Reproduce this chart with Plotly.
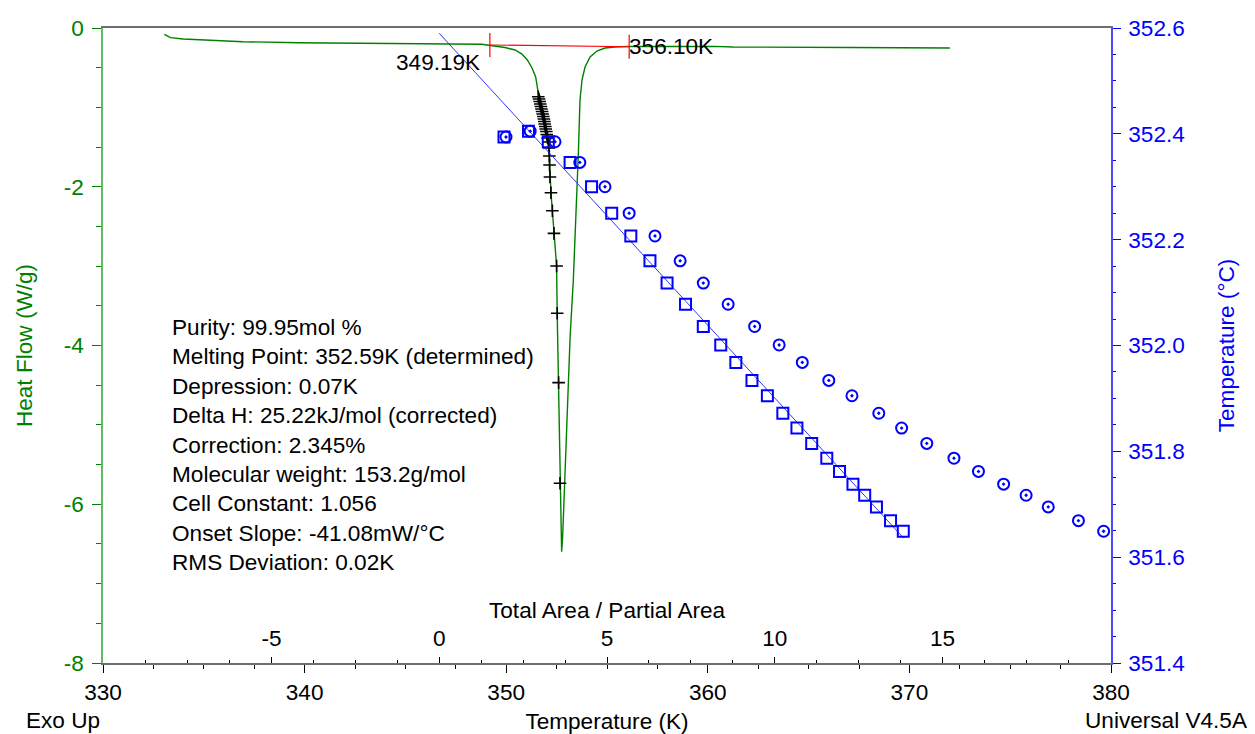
import plotly.graph_objects as go

# ---------------- data ----------------
# Heat flow curve (Temperature K, Heat Flow W/g)
hf_temp = [333.04, 333.35, 333.97, 335.24, 336.94, 339.72, 343.94, 348.78, 349.40, 349.94,
           350.44, 350.78, 351.05, 351.28, 351.46, 351.55,
           351.59, 351.66, 351.72, 351.78, 351.84, 351.89, 351.94, 351.99, 352.05, 352.09,
           352.14, 352.17, 352.22, 352.29, 352.37, 352.50, 352.53, 352.60, 352.67, 352.72, 352.75,
           352.80, 352.92, 353.03, 353.17, 353.33, 353.46, 353.58, 353.66, 353.76, 353.91,
           354.16, 354.50, 354.90, 355.40, 356.04, 360.31, 361.25, 367.06, 372.01]
hf_flow = [-0.079, -0.122, -0.139, -0.151, -0.173, -0.185, -0.193, -0.205, -0.227, -0.246,
           -0.277, -0.328, -0.403, -0.504, -0.614, -0.756,
           -0.866, -0.926, -0.989, -1.052, -1.115, -1.178, -1.241, -1.304, -1.386, -1.436,
           -1.613, -1.877, -2.075, -2.302, -2.587, -2.998, -3.594, -4.468, -5.736, -6.324, -6.598,
           -6.409, -5.568, -4.724, -3.889, -3.175, -2.419, -1.575, -0.907, -0.655, -0.491,
           -0.365, -0.290, -0.252, -0.239, -0.233, -0.231, -0.239, -0.246, -0.252]

# Partial-area points on the heat flow curve
pa_temp = [351.59, 351.63, 351.66, 351.69, 351.72, 351.75, 351.78, 351.81, 351.84, 351.87,
           351.89, 351.91, 351.94, 351.96, 351.99, 352.01, 352.05, 352.09, 352.12, 352.14,
           352.15, 352.17, 352.22, 352.29, 352.37, 352.50, 352.53, 352.60, 352.67]
pa_flow = [-0.866, -0.894, -0.926, -0.957, -0.989, -1.020, -1.052, -1.083, -1.115, -1.146,
           -1.178, -1.209, -1.241, -1.272, -1.304, -1.342, -1.386, -1.436, -1.512, -1.613,
           -1.726, -1.877, -2.075, -2.302, -2.587, -2.998, -3.594, -4.468, -5.736]

# Baseline limits
base_temp = [349.19, 356.10]
base_flow = [-0.214, -0.236]
base_labels = ["349.19K", "356.10K"]

# 1/F plot (Total Area / Partial Area vs Temperature)
sample_temp = [352.394, 352.405, 352.385, 352.346, 352.300, 352.250, 352.207, 352.160, 352.118,
               352.078, 352.036, 352.001, 351.968, 351.934, 351.905, 351.872, 351.844, 351.815,
               351.787, 351.762, 351.738, 351.717, 351.695, 351.669, 351.649]
corr_area = [1.93, 2.66, 3.25, 3.90, 4.54, 5.14, 5.71, 6.28, 6.79, 7.34, 7.87, 8.39, 8.84,
             9.32, 9.78, 10.24, 10.66, 11.10, 11.55, 11.93, 12.33, 12.68, 13.03, 13.45, 13.83]
uncorr_area = [1.99, 2.71, 3.45, 4.19, 4.94, 5.66, 6.43, 7.18, 7.87, 8.61, 9.40, 10.13, 10.82,
               11.61, 12.30, 13.10, 13.78, 14.53, 15.34, 16.07, 16.82, 17.49, 18.15, 19.05, 19.80]

fit_area = [0.0, 13.84]
fit_temp = [352.590, 351.636]

# Tick labels
hf_ticks = [-8, -6, -4, -2, 0]
hf_ticktext = ["-8", "-6", "-4", "-2", "0"]
area_ticks = [-5, 0, 5, 10, 15]
area_ticktext = ["-5", "0", "5", "10", "15"]
t2_ticks = [351.4, 351.6, 351.8, 352.0, 352.2, 352.4, 352.6]
t2_ticktext = ["351.4", "351.6", "351.8", "352.0", "352.2", "352.4", "352.6"]

results = ["Purity: 99.95mol %",
           "Melting Point: 352.59K (determined)",
           "Depression: 0.07K",
           "Delta H: 25.22kJ/mol (corrected)",
           "Correction: 2.345%",
           "Molecular weight: 153.2g/mol",
           "Cell Constant: 1.056",
           "Onset Slope: -41.08mW/°C",
           "RMS Deviation: 0.02K"]

# ---------------- styles ----------------
FONT = "Liberation Sans, Arial, sans-serif"
FS = 22.6
GREEN = "#008000"
BLUE = "#0000ff"
AREA_RANGE = [-10.02, 20.02]

fig = go.Figure()

fig.add_trace(go.Scatter(x=hf_temp, y=hf_flow, mode="lines",
                         line=dict(color=GREEN, width=1.4), xaxis="x", yaxis="y",
                         showlegend=False, hoverinfo="skip"))
fig.add_trace(go.Scatter(x=base_temp, y=base_flow, mode="lines+markers",
                         line=dict(color="#ff0000", width=1.2),
                         marker=dict(symbol="line-ns", size=17, color="#ff0000",
                                     line=dict(color="#ff0000", width=1.2)),
                         xaxis="x", yaxis="y", showlegend=False, hoverinfo="skip"))
fig.add_trace(go.Scatter(x=pa_temp, y=pa_flow, mode="markers",
                         marker=dict(symbol="cross-thin", size=9, color="black",
                                     line=dict(color="black", width=1.6)),
                         xaxis="x", yaxis="y", showlegend=False, hoverinfo="skip"))
fig.add_trace(go.Scatter(x=fit_area, y=fit_temp, mode="lines",
                         line=dict(color="#3535ff", width=1), xaxis="x2", yaxis="y2",
                         showlegend=False, hoverinfo="skip"))
fig.add_trace(go.Scatter(x=corr_area, y=sample_temp, mode="markers",
                         marker=dict(symbol="square-open", size=11, color=BLUE,
                                     line=dict(color=BLUE, width=2)),
                         xaxis="x2", yaxis="y2", showlegend=False, hoverinfo="skip"))
fig.add_trace(go.Scatter(x=uncorr_area, y=sample_temp, mode="markers",
                         marker=dict(symbol="circle-open-dot", size=11, color=BLUE,
                                     line=dict(color=BLUE, width=2)),
                         xaxis="x3", yaxis="y2", showlegend=False, hoverinfo="skip"))

annotations = [
    dict(x=base_temp[0], y=-0.43, xref="x", yref="y", text=base_labels[0], showarrow=False,
         xanchor="right", yanchor="middle", xshift=-8, font=dict(family=FONT, size=FS, color="black")),
    dict(x=base_temp[1], y=base_flow[1], xref="x", yref="y", text=base_labels[1], showarrow=False,
         xanchor="left", yanchor="middle", xshift=-2, font=dict(family=FONT, size=FS, color="black")),
    dict(x=0.066, y=0.551, xref="paper", yref="paper", text="<br>".join(results), showarrow=False,
         xanchor="left", yanchor="top", align="left", font=dict(family=FONT, size=FS, color="black")),
    dict(x=0.5, y=0.082, xref="paper", yref="paper", text="Total Area / Partial Area", showarrow=False,
         xanchor="center", yanchor="middle", font=dict(family=FONT, size=FS, color="black")),
    dict(x=-0.078, y=-0.09, xref="paper", yref="paper", text="Exo Up", showarrow=False,
         xanchor="left", yanchor="middle", font=dict(family=FONT, size=FS, color="black")),
    dict(x=1.138, y=-0.09, xref="paper", yref="paper", text="Universal V4.5A", showarrow=False,
         xanchor="right", yanchor="middle", font=dict(family=FONT, size=FS, color="black")),
]

fig.update_layout(
    width=1247, height=726,
    margin=dict(l=95, r=144, t=20, b=71, autoexpand=False),
    paper_bgcolor="white", plot_bgcolor="white",
    font=dict(family=FONT, size=FS, color="black"),
    annotations=annotations,
    xaxis=dict(range=[330, 380], dtick=10, tick0=330, showgrid=False, zeroline=False,
               showline=True, linecolor="#6e6e6e", linewidth=2, mirror=True,
               ticks="outside", ticklen=8, tickwidth=1, tickcolor="black",
               minor=dict(dtick=2.5, ticklen=4, tickcolor="black", ticks="outside"),
               tickfont=dict(family=FONT, size=FS, color="black"), ticklabelstandoff=0,
               title=dict(text="Temperature (K)", font=dict(family=FONT, size=FS, color="black"), standoff=14)),
    # area axis: ticks on the bottom line, pointing into the plot
    xaxis2=dict(range=AREA_RANGE, tickmode="array", tickvals=area_ticks,
                overlaying="x", anchor="y", side="bottom",
                showgrid=False, zeroline=False, showline=False, showticklabels=False,
                ticks="inside", ticklen=6, tickwidth=1, tickcolor="black",
                minor=dict(tickmode="linear", dtick=1.25, tick0=0, ticklen=3, tickcolor="black", ticks="inside")),
    # area axis labels, placed just above the bottom line
    xaxis3=dict(range=AREA_RANGE, tickmode="array", tickvals=area_ticks, ticktext=area_ticktext,
                overlaying="x", anchor="free", position=0.0646, side="bottom",
                showgrid=False, zeroline=False, showline=False, ticks="",
                tickfont=dict(family=FONT, size=FS, color="black")),
    yaxis=dict(range=[-8, 0], tickmode="array", tickvals=hf_ticks, ticktext=hf_ticktext,
               showgrid=False, zeroline=False,
               showline=True, linecolor="rgb(100,185,100)", linewidth=1.5,
               ticks="outside", ticklen=9, tickwidth=1, tickcolor=GREEN,
               minor=dict(tickmode="linear", dtick=0.5, tick0=0, ticklen=5, tickcolor=GREEN, ticks="outside"),
               tickfont=dict(family=FONT, size=FS, color=GREEN), ticklabelstandoff=4,
               title=dict(text="Heat Flow (W/g)", font=dict(family=FONT, size=FS, color=GREEN), standoff=25)),
    yaxis2=dict(range=[351.4, 352.6], tickmode="array", tickvals=t2_ticks, ticktext=t2_ticktext,
                overlaying="y", side="right", anchor="x",
                showgrid=False, zeroline=False,
                showline=True, linecolor="#4a4aff", linewidth=1.5,
                ticks="outside", ticklen=8, tickwidth=1, tickcolor=BLUE,
                minor=dict(tickmode="linear", dtick=0.05, tick0=351.4, ticklen=3, tickcolor=BLUE, ticks="outside"),
                tickfont=dict(family=FONT, size=FS, color=BLUE), ticklabelstandoff=3,
                title=dict(text="Temperature (°C)", font=dict(family=FONT, size=FS, color=BLUE), standoff=34)),
)

fig.write_html("out.html")
